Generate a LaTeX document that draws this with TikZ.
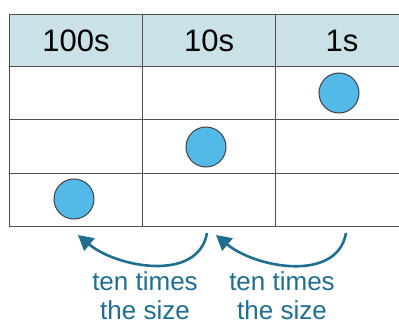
\documentclass[tikz,border=0pt]{standalone}
\usepackage{fontspec}
\setmainfont{Liberation Sans}
\usetikzlibrary{arrows.meta}
\definecolor{hdr}{HTML}{C9E1E7}
\definecolor{gridc}{HTML}{505050}
\definecolor{dotc}{HTML}{52B9E9}
\definecolor{arr}{HTML}{1F6E90}
\tikzset{
  hcell/.style={fill=hdr, draw=gridc, line width=1.2pt, minimum width=133pt, minimum height=52pt, inner sep=0pt, anchor=north west, font=\fontsize{31}{31}\selectfont},
  bcell/.style={draw=gridc, line width=1.2pt, minimum width=133pt, minimum height=53.3pt, inner sep=0pt, anchor=north west},
  dot/.style={circle, fill=dotc, draw=black!75, line width=1pt, minimum size=40pt, inner sep=0pt},
  lbl/.style={text=arr, align=center, font=\fontsize{26}{29}\selectfont, inner sep=0pt},
  curvearrow/.style={draw=arr, line width=2.6pt, -{Triangle[length=15pt,width=16pt]}}
}
\begin{document}
\begin{tikzpicture}[x=1pt,y=-1pt]
\useasboundingbox (0,0) rectangle (399,326);
\begin{scope}
\clip (0,0) rectangle (399,326);
\node[hcell] (h1) at (9,14) {100s};
\node[hcell] (h2) at (142,14) {10s};
\node[hcell] (h3) at (275,14) {1s};
\foreach \r in {0,1,2}{
  \foreach \c in {0,1,2}{
    \node[bcell] (b\r\c) at (9+133*\c, 66+53.3*\r) {};
  }
}
\end{scope}
\node[dot] (c1) at (339,93) {};
\node[dot] (c2) at (206,147) {};
\node[dot] (c3) at (74,199) {};
\coordinate (s1) at (207,233);
\coordinate (e1) at (78,235);
\coordinate (s2) at (346,233);
\coordinate (e2) at (216,235);
\draw[curvearrow] (s1) to[out=-100,in=-40] (e1);
\draw[curvearrow] (s2) to[out=-100,in=-40] (e2);
\node[lbl] (t1) at (145,296) {ten times\\the size};
\node[lbl] (t2) at (282,296) {ten times\\the size};
\end{tikzpicture}
\end{document}
